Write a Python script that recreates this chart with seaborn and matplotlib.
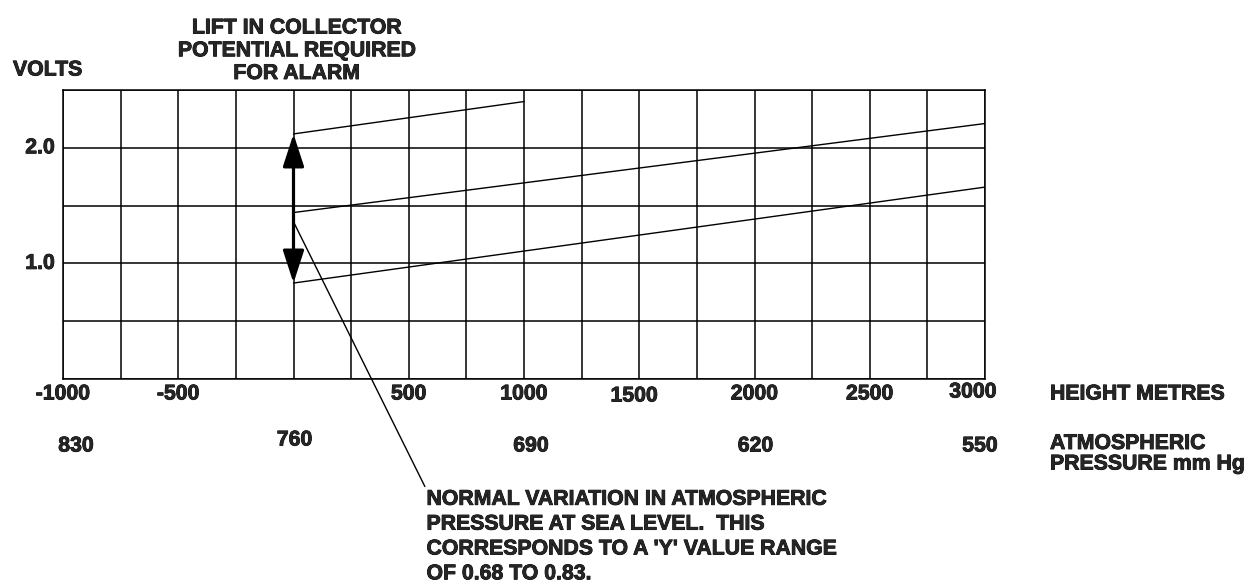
import numpy as np
import pandas as pd
import matplotlib
matplotlib.use("Agg")
import matplotlib.pyplot as plt
import matplotlib.patheffects as pe
import seaborn as sns
from matplotlib.patches import FancyArrowPatch

# Lift lines (height in metres -> volts)
top_height = [0, 1000]
top_volts = [2.12, 2.40]
mid_height = [0, 3000]
mid_volts = [1.44, 2.21]
low_height = [0, 3000]
low_volts = [0.83, 1.66]

# axis labels
height_ticks = [-1000, -500, 500, 1000, 1500, 2000, 2500, 3000]
pressure_ticks = [830, 760, 690, 620, 550]
pressure_height = [-1000, 0, 1000, 2000, 3000]
volt_ticks = [1.0, 2.0]
leader_volts = 1.36  # where the note's leader line meets the arrow

note = ("NORMAL VARIATION IN ATMOSPHERIC\n"
        "PRESSURE AT SEA LEVEL.  THIS\n"
        "CORRESPONDS TO A 'Y' VALUE RANGE\n"
        "OF 0.68 TO 0.83.")

sns.set_style("white")
plt.rcParams['font.family'] = ['Liberation Sans', 'DejaVu Sans']
plt.rcParams['font.weight'] = 'bold'
fs = 15.3
heavy = [pe.withStroke(linewidth=0.6, foreground="black")]
txt = dict(fontsize=fs, fontweight="bold", path_effects=heavy,
           textcoords="offset pixels")

df = pd.concat([
    pd.DataFrame({"Height": top_height, "Volts": top_volts, "Line": "top"}),
    pd.DataFrame({"Height": mid_height, "Volts": mid_volts, "Line": "mid"}),
    pd.DataFrame({"Height": low_height, "Volts": low_volts, "Line": "low"}),
], ignore_index=True)

fig = plt.figure(figsize=(12.55, 5.88), dpi=100)
ax = fig.add_axes([63 / 1255, 1 - 379 / 588, 922 / 1255, 289 / 588])

sns.lineplot(data=df, x="Height", y="Volts", units="Line", estimator=None,
             color="black", lw=1.0, ax=ax, legend=False)

ax.set_xlim(-1000, 3000)
ax.set_ylim(0, 2.5)
ax.set_xticks(np.arange(-1000, 3001, 250))
ax.set_yticks(np.arange(0, 2.51, 0.5))
ax.tick_params(length=0, labelbottom=False, labelleft=False)
ax.grid(True, color="black", lw=1.1)
ax.set_xlabel("")
ax.set_ylabel("")
for s in ax.spines.values():
    s.set_color("black")
    s.set_linewidth(1.1)

# double arrow at sea level
arrow = FancyArrowPatch((0, low_volts[0]), (0, top_volts[0]),
                        arrowstyle="<|-|>,head_length=20,head_width=6.5",
                        mutation_scale=1, lw=2.3, color="black",
                        shrinkA=0, shrinkB=0, zorder=5)
ax.add_patch(arrow)

# volts labels
for v in volt_ticks:
    ax.annotate(f"{v:.1f}", xy=(0, v), xycoords=("axes fraction", "data"),
                xytext=(-8, 0), ha="right", va="center", **txt)

# height labels
h_nudge = {1500: (-5, -2), 3000: (-12, 2)}
for h in height_ticks:
    dx, dy = h_nudge.get(h, (0, 0))
    ax.annotate(f"{h}", xy=(h, 0), xycoords=("data", "axes fraction"),
                xytext=(dx, -15 + dy), ha="center", va="center", **txt)

# pressure labels
p_nudge = {830: (13, 0), 760: (1, 6), 690: (7, 0), 620: (1, 0), 550: (-5, 0)}
for p, h in zip(pressure_ticks, pressure_height):
    dx, dy = p_nudge[p]
    ax.annotate(f"{p}", xy=(h, 0), xycoords=("data", "axes fraction"),
                xytext=(dx, -67 + dy), ha="center", va="center", **txt)

ax.annotate("HEIGHT METRES", xy=(1, 0), xycoords="axes fraction",
            xytext=(65, -15), ha="left", va="center", **txt)
ax.annotate("ATMOSPHERIC\nPRESSURE mm Hg", xy=(1, 0), xycoords="axes fraction",
            xytext=(65, -55), ha="left", va="top", linespacing=1.1, **txt)

ax.annotate("VOLTS", xy=(0, 1), xycoords="axes fraction",
            xytext=(-50, 20), ha="left", va="center", **txt)

ax.annotate("LIFT IN COLLECTOR\nPOTENTIAL REQUIRED\nFOR ALARM", xy=(0, 1),
            xycoords=("data", "axes fraction"),
            xytext=(3, 7), ha="center", va="bottom", multialignment="center",
            linespacing=1.25, **txt)

# note with leader line to the arrow
ax.annotate(note, xy=(0, leader_volts), xycoords="data",
            xytext=(133, -268), ha="left", va="top", linespacing=1.39,
            arrowprops=dict(arrowstyle="-", color="black", lw=1.0,
                            shrinkA=0, shrinkB=0, relpos=(0, 1)), **txt)

fig.savefig("out.png", dpi=100, facecolor="white")
